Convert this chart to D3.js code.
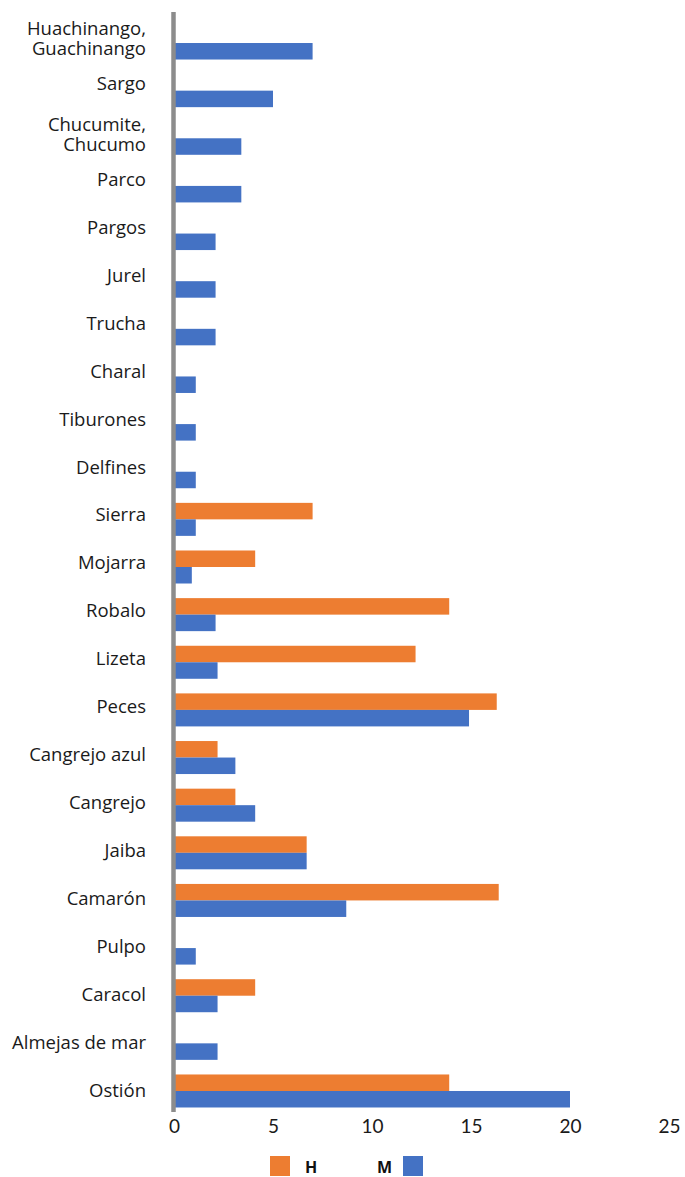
<!DOCTYPE html>
<html>
<head>
<meta charset="utf-8">
<script src="https://cdn.jsdelivr.net/npm/d3@7"></script>
<style>
  body { margin: 0; background: #fff; }
  svg { display: block; }
  .cat text { font-family: "Open Sans", Lato, sans-serif; font-size: 18.5px; fill: #1a1a1a; }
  .xax text { font-family: Lato, sans-serif; font-size: 19px; fill: #1a1a1a; }
  .legend text { font-family: "Open Sans", sans-serif; font-weight: bold; font-size: 16px; fill: #111; }
</style>
</head>
<body>
<div id="chart"></div>
<script>
// categories, top to bottom
var categories = ["Huachinango, Guachinango", "Sargo", "Chucumite, Chucumo", "Parco", "Pargos",
  "Jurel", "Trucha", "Charal", "Tiburones", "Delfines", "Sierra", "Mojarra", "Robalo", "Lizeta",
  "Peces", "Cangrejo azul", "Cangrejo", "Jaiba", "Camarón", "Pulpo", "Caracol", "Almejas de mar", "Ostión"];

var valuesH = [0, 0, 0, 0, 0, 0, 0, 0, 0, 0, 7, 4.1, 13.9, 12.2, 16.3, 2.2, 3.1, 6.7, 16.4, 0, 4.1, 0, 13.9];
var valuesM = [7, 5, 3.4, 3.4, 2.1, 2.1, 2.1, 1.1, 1.1, 1.1, 1.1, 0.9, 2.1, 2.2, 14.9, 3.1, 4.1, 6.7, 8.7, 1.1, 2.2, 2.2, 20];

var seriesNames = ["H", "M"];
var seriesColors = ["#ED7D31", "#4472C4"];
var xTicks = [0, 5, 10, 15, 20, 25];

var W = 685, H = 1177;

var data = categories.map(function (c, i) {
  return { cat: c, H: valuesH[i], M: valuesM[i] };
});

var svg = d3.select("#chart")
  .append("svg")
  .attr("width", W)
  .attr("height", H);

var x = d3.scaleLinear()
  .domain([0, 25])
  .range([174, 669]);

// scale for category labels (spans the axis line)
var yLab = d3.scaleBand()
  .domain(categories)
  .range([12, 1115]);

// scale for bars
var y = d3.scaleBand()
  .domain(categories)
  .range([19.2, 1114.8])
  .paddingInner(0.307)
  .paddingOuter(0.1535);

var ySub = d3.scaleBand()
  .domain(seriesNames)
  .range([0, y.bandwidth()]);

// bars
var groups = svg.append("g")
  .selectAll("g")
  .data(data)
  .enter()
  .append("g")
  .attr("transform", function (d) { return "translate(0," + y(d.cat) + ")"; });

groups.selectAll("rect")
  .data(function (d) {
    return seriesNames.map(function (s, k) { return { key: s, value: d[s], color: seriesColors[k] }; });
  })
  .enter()
  .append("rect")
  .attr("x", x(0))
  .attr("y", function (d) { return ySub(d.key); })
  .attr("width", function (d) { return x(d.value) - x(0); })
  .attr("height", ySub.bandwidth())
  .attr("fill", function (d) { return d.color; });

// vertical axis line
svg.append("line")
  .attr("x1", x(0) - 0.5)
  .attr("x2", x(0) - 0.5)
  .attr("y1", yLab.range()[0])
  .attr("y2", 1112)
  .attr("stroke", "#8c8c8c")
  .attr("stroke-width", 4.5);

// category labels
var cat = svg.append("g")
  .attr("class", "cat")
  .attr("transform", "translate(" + x(0) + ",0)")
  .call(d3.axisLeft(yLab).tickSize(0).tickPadding(28));
cat.select(".domain").remove();
cat.selectAll(".tick text").each(function (d) {
  var parts = d.split(", ");
  if (parts.length > 1) {
    var t = d3.select(this).text(null).attr("dy", null);
    parts.forEach(function (p, i) {
      t.append("tspan")
        .attr("x", -28)
        .attr("dy", i === 0 ? "-0.05em" : "1.08em")
        .text(i < parts.length - 1 ? p + "," : p);
    });
  }
});

// x axis tick labels
var xa = svg.append("g")
  .attr("class", "xax")
  .attr("transform", "translate(0,1112)")
  .call(d3.axisBottom(x).tickValues(xTicks).tickSize(0).tickPadding(8));
xa.select(".domain").remove();

// legend
var leg = svg.append("g").attr("class", "legend");
leg.append("rect").attr("x", 270).attr("y", 1156).attr("width", 20).attr("height", 20).attr("fill", seriesColors[0]);
leg.append("text").attr("x", 305).attr("y", 1173).text(seriesNames[0]);
leg.append("text").attr("x", 377).attr("y", 1173).text(seriesNames[1]);
leg.append("rect").attr("x", 403).attr("y", 1156).attr("width", 20).attr("height", 20).attr("fill", seriesColors[1]);
</script>
</body>
</html>
